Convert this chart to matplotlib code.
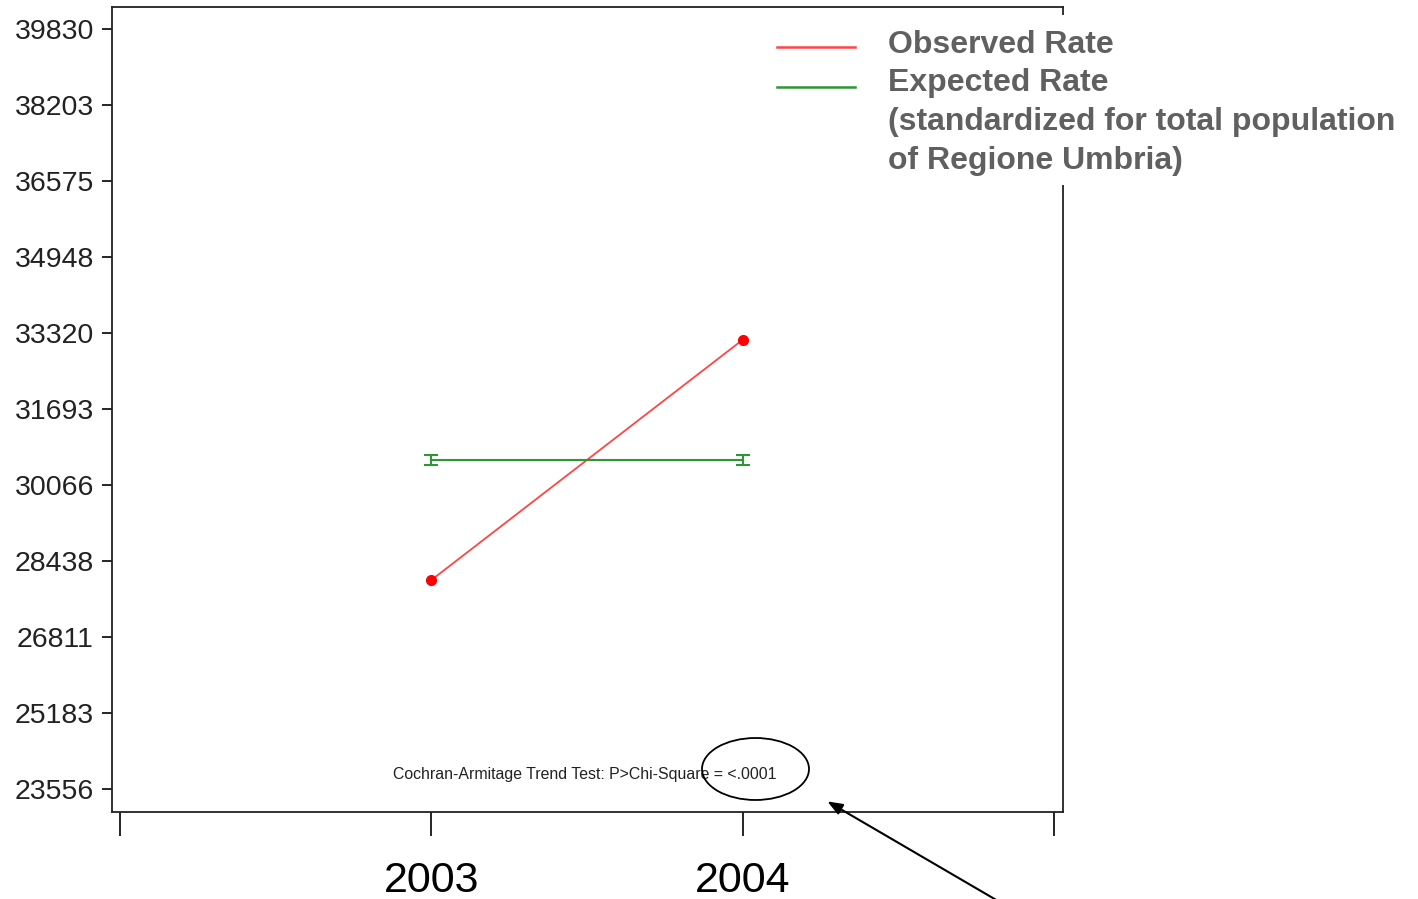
import numpy as np
import matplotlib.pyplot as plt
from matplotlib.patches import Ellipse, Rectangle
from matplotlib.lines import Line2D

plt.rcParams['font.family'] = ['Liberation Sans', 'DejaVu Sans']

years = [2003, 2004]
observed = [28030, 33175]
expected = [30600, 30600]
expected_err = [105, 105]
yticks = [23556, 25183, 26811, 28438, 30066, 31693, 33320, 34948, 36575, 38203, 39830]
xticks = [2002, 2003, 2004, 2005]
xticklabels = ["", "2003", "2004", ""]
legend_lines = ["Observed Rate", "Expected Rate",
                "(standardized for total population", "of Regione Umbria)"]

W, H = 1418, 899
fig = plt.figure(figsize=(W/100, H/100), dpi=100)
ax = fig.add_axes([112/W, 1-812/H, (1063-112)/W, (812-7)/H])

red = "#ff4545"
green = "#2e9632"

ax.plot(years, observed, color=red, linewidth=1.3, marker="o", markersize=7,
        markerfacecolor="#ff0000", markeredgecolor="#ff0000")
ax.errorbar(years, expected, yerr=expected_err, color=green, linewidth=1.5,
            capsize=5, capthick=1.5, elinewidth=1.5)

ax.set_xlim(2002 - 8/312, 2005 + 9/312)
ax.set_ylim(23556 - 23*21.413, 39830 + 22*21.413)
ax.set_yticks(yticks)
ax.set_yticklabels([str(v) for v in yticks], fontsize=20.5, color="#222222")
ax.set_xticks(xticks)
ax.set_xticklabels(xticklabels, fontsize=31)
ax.tick_params(axis="y", length=7, width=1.2, pad=6)
ax.tick_params(axis="x", length=17, width=1.2, pad=18)
for s in ax.spines.values():
    s.set_linewidth(1.3)
    s.set_color("#222222")

ax.text(0.295, 0.047, "Cochran-Armitage Trend Test: P>Chi-Square = <.0001",
        transform=ax.transAxes, fontsize=11.4, color="#222222", va="center", ha="left")

# legend drawn by hand over the axes frame, white box behind it
fig.add_artist(Rectangle((770/W, 1-185/H), (W-770)/W, (185-15)/H,
                         transform=fig.transFigure, facecolor="white",
                         edgecolor="none", zorder=5))
for yl, c in [(47, red), (87, green)]:
    fig.add_artist(Line2D([777/W, 855/W], [1-yl/H, 1-yl/H], color=c,
                          linewidth=1.8, transform=fig.transFigure, zorder=6))
for i, txt in enumerate(legend_lines):
    fig.text(888/W, 1-(45 + 38.5*i)/H, txt, fontsize=23, fontweight="bold",
             color="#606060", va="center", ha="left", zorder=6)

# ellipse and arrow pointing to the p-value
ell = Ellipse((755.5/W, 1-769/H), 107/W, 62/H, transform=fig.transFigure,
              fill=False, edgecolor="black", linewidth=1.3)
fig.add_artist(ell)
ax.annotate("", xy=(825/W, 1-800/H), xytext=(998/W, 1-901/H),
            xycoords="figure fraction", textcoords="figure fraction",
            arrowprops=dict(arrowstyle="-|>,head_length=0.9,head_width=0.35",
                            color="black", linewidth=1.5),
            annotation_clip=False)

fig.savefig("out.png", dpi=100)
